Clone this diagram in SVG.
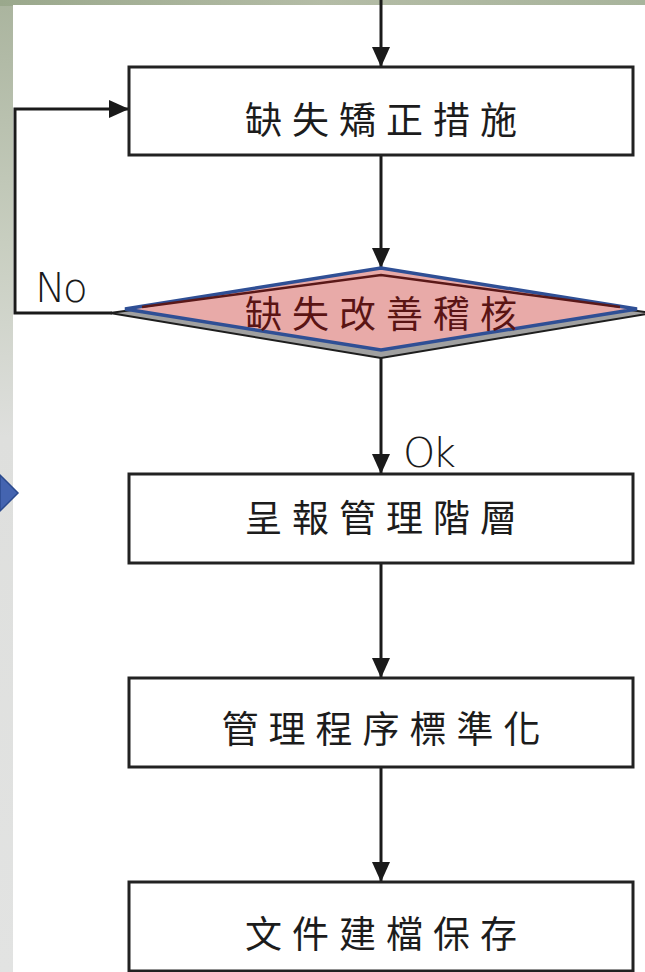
<svg xmlns="http://www.w3.org/2000/svg" width="645" height="972" viewBox="0 0 645 972">
  <defs>
    <style>
      .box { fill: #ffffff; stroke: #222222; stroke-width: 3; }
      .lbl { font-family: "Noto Sans CJK TC", "Noto Sans CJK SC", sans-serif; font-size: 37px; letter-spacing: 10px; fill: #1c1c1c; text-anchor: middle; }
      .dlbl { fill: #5a1414; }
      .edge { fill: none; stroke: #1a1a1a; stroke-width: 3; }
      .yn { font-family: "DejaVu Sans", "Liberation Sans", sans-serif; font-weight: 200; font-size: 41px; letter-spacing: -3px; fill: #1a1a1a; }
    </style>
    <marker id="arr" viewBox="0 0 20 18" refX="20" refY="9" markerWidth="20" markerHeight="18" markerUnits="userSpaceOnUse" orient="auto">
      <path d="M0,0 L20,9 L0,18 Z" fill="#1a1a1a"/>
    </marker>
    <linearGradient id="bgTop" x1="0" y1="0" x2="1" y2="0">
      <stop offset="0" stop-color="#9aa88c"/>
      <stop offset="0.5" stop-color="#b4bca6"/>
      <stop offset="1" stop-color="#a8b49c"/>
    </linearGradient>
    <linearGradient id="bgLeft" x1="0" y1="0" x2="0" y2="1">
      <stop offset="0" stop-color="#aab49e"/>
      <stop offset="0.25" stop-color="#c8cec0"/>
      <stop offset="0.45" stop-color="#dedfdd"/>
      <stop offset="1" stop-color="#e2e3e2"/>
    </linearGradient>
  </defs>

  <!-- background -->
  <rect x="0" y="0" width="645" height="972" fill="url(#bgLeft)"/>
  <rect x="0" y="0" width="645" height="6" fill="url(#bgTop)"/>
  <rect x="13" y="5" width="632" height="967" fill="#ffffff"/>
  <polygon points="0,475 18,493 0,511" fill="#4464b0" stroke="#2b4a8e" stroke-width="1.5"/>

  <!-- connectors -->
  <g id="connectors">
    <line class="edge" x1="381" y1="0" x2="381" y2="67" marker-end="url(#arr)"/>
    <line class="edge" x1="381" y1="155" x2="381" y2="268" marker-end="url(#arr)"/>
    <polyline class="edge" points="112,313 15,313 15,109 129,109" marker-end="url(#arr)"/>
    <line class="edge" x1="381" y1="356" x2="381" y2="474" marker-end="url(#arr)"/>
    <line class="edge" x1="381" y1="563" x2="381" y2="678" marker-end="url(#arr)"/>
    <line class="edge" x1="381" y1="767" x2="381" y2="882" marker-end="url(#arr)"/>
    <text class="yn" x="35" y="302">No</text>
    <text class="yn" x="403" y="467">Ok</text>
  </g>

  <g id="n1">
    <rect class="box" x="129" y="67" width="504" height="88"/>
    <text class="lbl" x="386" y="134">缺失矯正措施</text>
  </g>

  <g id="n2">
    <polygon points="110,313 381,276 652,313 381,358" fill="#a0a0a0" stroke="#1e1e1e" stroke-width="2"/>
    <polygon points="125,309 381,268 637,309 381,350" fill="#e8aaa8" stroke="#2f4f95" stroke-width="3.5" stroke-linejoin="miter"/>
    <polyline points="142,307 381,275 620,307" fill="none" stroke="#5a1818" stroke-width="2.5"/>
    <text class="lbl dlbl" x="386" y="328">缺失改善稽核</text>
  </g>

  <g id="n3">
    <rect class="box" x="129" y="474" width="504" height="89"/>
    <text class="lbl" x="386" y="532">呈報管理階層</text>
  </g>

  <g id="n4">
    <rect class="box" x="129" y="678" width="504" height="89"/>
    <text class="lbl" x="386" y="743">管理程序標準化</text>
  </g>

  <g id="n5">
    <rect class="box" x="129" y="882" width="504" height="89"/>
    <text class="lbl" x="386" y="948">文件建檔保存</text>
  </g>
</svg>
